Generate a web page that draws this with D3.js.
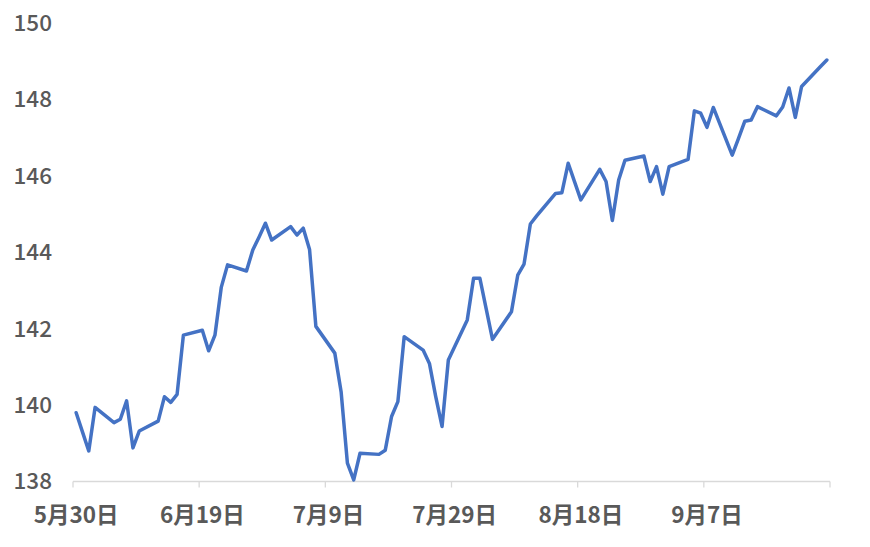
<!DOCTYPE html>
<html>
<head>
<meta charset="utf-8">
<script src="https://cdn.jsdelivr.net/npm/d3@7"></script>
<style>
  body { margin: 0; background: #fff; }
  text { font-family: "Noto Sans CJK JP", "Noto Sans", sans-serif; fill: #595959; }
</style>
</head>
<body>
<svg id="chart" width="870" height="547"></svg>
<script>
const dates = [
  '2023-05-30','2023-05-31','2023-06-01','2023-06-02','2023-06-05','2023-06-06','2023-06-07','2023-06-08','2023-06-09',
  '2023-06-12','2023-06-13','2023-06-14','2023-06-15','2023-06-16','2023-06-19','2023-06-20','2023-06-21','2023-06-22','2023-06-23',
  '2023-06-26','2023-06-27','2023-06-28','2023-06-29','2023-06-30','2023-07-03','2023-07-04','2023-07-05','2023-07-06','2023-07-07',
  '2023-07-10','2023-07-11','2023-07-12','2023-07-13','2023-07-14','2023-07-17','2023-07-18','2023-07-19','2023-07-20','2023-07-21',
  '2023-07-24','2023-07-25','2023-07-26','2023-07-27','2023-07-28','2023-07-31','2023-08-01','2023-08-02','2023-08-03','2023-08-04',
  '2023-08-07','2023-08-08','2023-08-09','2023-08-10','2023-08-11','2023-08-14','2023-08-15','2023-08-16','2023-08-17','2023-08-18',
  '2023-08-21','2023-08-22','2023-08-23','2023-08-24','2023-08-25','2023-08-28','2023-08-29','2023-08-30','2023-08-31','2023-09-01',
  '2023-09-04','2023-09-05','2023-09-06','2023-09-07','2023-09-08','2023-09-11','2023-09-12','2023-09-13','2023-09-14','2023-09-15',
  '2023-09-18','2023-09-19','2023-09-20','2023-09-21','2023-09-22','2023-09-25','2023-09-26'
];
const values = [
  139.80,139.30,138.80,139.94,139.54,139.63,140.11,138.88,139.32,
  139.58,140.22,140.07,140.28,141.83,141.96,141.42,141.83,143.08,143.67,
  143.51,144.06,144.40,144.76,144.32,144.67,144.45,144.63,144.07,142.06,
  141.36,140.35,138.48,138.04,138.74,138.71,138.82,139.70,140.09,141.79,
  141.44,141.09,140.22,139.44,141.18,142.23,143.32,143.32,142.52,141.72,
  142.44,143.40,143.69,144.74,144.95,145.54,145.56,146.33,145.85,145.37,
  146.17,145.85,144.83,145.89,146.41,146.52,145.85,146.24,145.52,146.24,
  146.43,147.70,147.64,147.27,147.79,146.54,146.98,147.43,147.46,147.81,
  147.57,147.80,148.30,147.53,148.34,148.86,149.03
];
const yTicks = [138, 140, 142, 144, 146, 148, 150];
const xTickDates = ['2023-05-30','2023-06-19','2023-07-09','2023-07-29','2023-08-18','2023-09-07','2023-09-27'];
const xTickLabels = ['5月30日','6月19日','7月9日','7月29日','8月18日','9月7日',''];

const svg = d3.select('#chart');
const parse = d3.utcParse('%Y-%m-%d');
const data = dates.map((d, i) => ({ date: parse(d), value: values[i] }));
const halfDay = d => d3.utcHour.offset(d, 12);

const x = d3.scaleUtc()
  .domain([parse('2023-05-30'), parse('2023-09-27')])
  .range([73, 830]);
const y = d3.scaleLinear()
  .domain([138, 150])
  .range([481.5, 23]);

// x axis: ticks on day boundaries, labels centred on the day
const xAxis = svg.append('g').attr('transform', 'translate(0,481.5)');
xAxis.append('line')
  .attr('x1', x.range()[0]).attr('x2', x.range()[1])
  .attr('stroke', '#d9d9d9').attr('stroke-width', 1.3);
xAxis.selectAll('.tick')
  .data(xTickDates.map(parse))
  .enter().append('line')
  .attr('x1', d => x(d)).attr('x2', d => x(d))
  .attr('y1', 0).attr('y2', 6)
  .attr('stroke', '#d9d9d9').attr('stroke-width', 1.3);
xAxis.selectAll('.lbl')
  .data(xTickDates.map(parse))
  .enter().append('text')
  .attr('x', d => x(halfDay(d)))
  .attr('y', 34)
  .attr('dy', '0.35em')
  .attr('text-anchor', 'middle')
  .style('font-size', '22.5px')
  .style('font-weight', 600)
  .text((d, i) => xTickLabels[i]);

// y labels only, no axis line
svg.append('g').selectAll('text')
  .data(yTicks)
  .enter().append('text')
  .attr('x', 52)
  .attr('y', d => y(d))
  .attr('dy', '0.35em')
  .attr('text-anchor', 'end')
  .style('font-size', '22.5px')
  .style('font-weight', 500)
  .text(d => d);

const line = d3.line()
  .x(d => x(halfDay(d.date)))
  .y(d => y(d.value));

svg.append('path')
  .datum(data)
  .attr('fill', 'none')
  .attr('stroke', '#4472C4')
  .attr('stroke-width', 3.5)
  .attr('stroke-linejoin', 'round')
  .attr('stroke-linecap', 'round')
  .attr('d', line);
</script>
</body>
</html>
